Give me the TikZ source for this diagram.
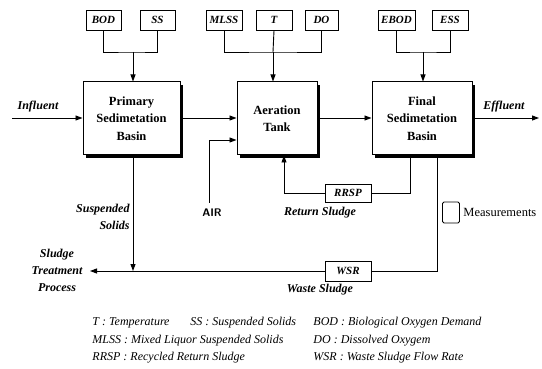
\documentclass[tikz,border=0pt]{standalone}
\usepackage{fontspec}
\setmainfont{Liberation Serif}
\usetikzlibrary{arrows.meta,shadows}
\begin{document}
\begin{tikzpicture}[x=1pt,y=-1pt,
  line width=0.9pt,
  >={Triangle[length=7pt,width=5pt]},
  meas/.style={draw, line width=0.9pt, minimum height=20pt, inner sep=0pt, font=\fontsize{11}{12}\selectfont\bfseries\itshape},
  unit/.style={draw, fill=white, line width=1pt, minimum height=73pt, inner sep=0pt, align=center,
     font=\fontsize{12.5}{17.5}\selectfont\bfseries,
     drop shadow={shadow xshift=3pt, shadow yshift=-3pt, fill=black, opacity=1}},
  lab/.style={font=\fontsize{12}{17}\selectfont\bfseries\itshape, inner sep=0pt},
  leg/.style={font=\fontsize{12}{13}\selectfont\itshape, inner sep=0pt, anchor=base west}
]
\useasboundingbox (0,0) rectangle (542,369);

% measurement boxes
\node[meas, minimum width=35pt] (bod) at (103.5,20) {BOD};
\node[meas, minimum width=35pt] (ss) at (157.5,20) {SS};
\node[meas, minimum width=36pt] (mlss) at (224,20) {MLSS};
\node[meas, minimum width=36pt] (t) at (274,20) {T};
\node[meas, minimum width=33pt] (do) at (321.5,20) {DO};
\node[meas, minimum width=37pt] (ebod) at (396.5,20) {EBOD};
\node[meas, minimum width=36pt] (ess) at (450,20) {ESS};

% units
\node[unit, minimum width=97pt] (prim) at (131.5,118.5) {Primary\\Sedimetation\\Basin};
\node[unit, minimum width=80pt] (aer) at (277,118.5) {Aeration\\Tank};
\node[unit, minimum width=100pt] (fin) at (422,118.5) {Final\\Sedimetation\\Basin};

% recycle / waste boxes
\node[meas, minimum width=46pt, minimum height=18pt] (rrsp) at (348,193) {RRSP};
\node[meas, minimum width=46pt, minimum height=20pt] (wsr) at (348,271) {WSR};
\node[draw, line width=0.8pt, rounded corners=1.5pt, minimum width=17pt, minimum height=21pt, inner sep=0pt] (legbox) at (451,212.5) {};
\node[anchor=west, inner sep=0pt, font=\fontsize{12.5}{14}\selectfont] (legtxt) at (463,212) {Measurements};

% buses
\coordinate (b1) at (133,52);
\coordinate (b2) at (273,52);
\coordinate (b3) at (423,52);
\draw (bod.south) |- (b1) -| (ss.south);
\draw[->] (b1) -- (b1 |- prim.north);
\draw (mlss.south) |- (b2) -| (do.south);
\draw (t.south) -- (b2);
\draw[->] (b2) -- (b2 |- aer.north);
\draw (ebod.south) |- (b3) -| (ess.south);
\draw[->] (b3) -- (b3 |- fin.north);

% main flow
\coordinate (inf) at (12,118);
\coordinate (eff) at (539,118);
\draw[->] (inf) -- (prim.west |- inf);
\draw[->] (prim.east |- inf) -- (aer.west |- inf);
\draw[->] (aer.east |- inf) -- (fin.west |- inf);
\draw[->] (fin.east |- eff) -- (eff);
\node[lab] (inftxt) at (38,107) {Influent};
\node[lab] (efftxt) at (504,107) {Effluent};

% air
\coordinate (air1) at (209,203);
\coordinate (air2) at (209,140);
\draw[->] (air1) -- (air2) -- (aer.west |- air2);
\node[inner sep=0pt, font=\fontsize{11}{12}\selectfont\sffamily\bfseries] (airtxt) at (212,213) {AIR};

% return sludge
\coordinate (r1) at (410,193);
\coordinate (r2) at (284,193);
\draw (r1 |- fin.south) -- (r1) -- (rrsp.east);
\draw[->] (rrsp.west) -- (r2) -- (r2 |- aer.south);
\node[lab] (rettxt) at (320,213) {Return Sludge};

% waste sludge
\coordinate (w1) at (437,271);
\coordinate (w2) at (133,271);
\coordinate (w3) at (90,271);
\draw (w1 |- fin.south) -- (w1) -- (wsr.east);
\draw[->] (wsr.west) -- (w3);
\draw[->] (w2 |- prim.south) -- (w2);
\node[lab] (wastetxt) at (320,290) {Waste Sludge};
\node[lab, align=right, anchor=east] (sstxt) at (130,216.5) {Suspended\\Solids};
\node[lab, align=center] (sttxt) at (57,270) {Sludge\\Treatment\\Process};

% legend
\node[leg] (l1) at (92,326) {T : Temperature};
\node[leg] (l2) at (190,326) {SS : Suspended Solids};
\node[leg] (l3) at (313,326) {BOD : Biological Oxygen Demand};
\node[leg] (l4) at (92,343) {MLSS : Mixed Liquor Suspended Solids};
\node[leg] (l5) at (313,343) {DO : Dissolved Oxygem};
\node[leg] (l6) at (92,360) {RRSP : Recycled Return Sludge};
\node[leg] (l7) at (313,360) {WSR : Waste Sludge Flow Rate};
\end{tikzpicture}
\end{document}
